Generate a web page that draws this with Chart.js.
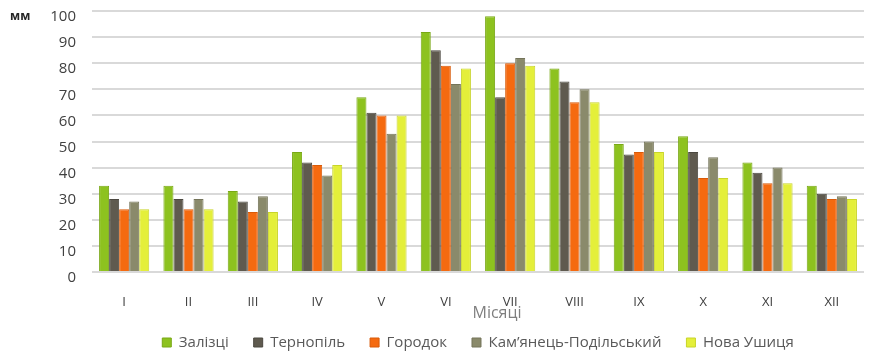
<!DOCTYPE html>
<html>
<head>
<meta charset="utf-8">
<script src="https://cdn.jsdelivr.net/npm/chart.js@4/dist/chart.umd.min.js"></script>
<style>
  html, body { margin: 0; padding: 0; background: #ffffff; }
  #wrap { width: 872px; height: 354px; }
</style>
</head>
<body>
<div id="wrap"><canvas id="c" width="872" height="354"></canvas></div>
<script>
const months = ['I', 'II', 'III', 'IV', 'V', 'VI', 'VII', 'VIII', 'IX', 'X', 'XI', 'XII'];
const zalizci      = [33, 33, 31, 46, 67, 92, 98, 78, 49, 52, 42, 33];
const ternopil     = [28, 28, 27, 42, 61, 85, 67, 73, 45, 46, 38, 30];
const gorodok      = [24, 24, 23, 41, 60, 79, 80, 65, 46, 36, 34, 28];
const kamianets    = [27, 28, 29, 37, 53, 72, 82, 70, 50, 44, 40, 29];
const novaUshytsia = [24, 24, 23, 41, 60, 78, 79, 65, 46, 36, 34, 28];
const yTicks = [0, 10, 20, 30, 40, 50, 60, 70, 80, 90, 100];
const yUnit = 'мм';
const xTitle = 'Місяці';

const seriesNames = ['Залізці', 'Тернопіль', 'Городок', 'Кам\u2019янець-Подільський', 'Нова Ушиця'];
const seriesData = [zalizci, ternopil, gorodok, kamianets, novaUshytsia];
const fills = ['#8dc21f', '#5f5a4f', '#f56a10', '#8a8a6b', '#e4ef3a'];
const borders = ['#79a816', '#4b4840', '#d95a08', '#74745a', '#c8d42a'];

const LEGEND_H = 44;

const legendFit = {
  id: 'legendFit',
  beforeLayout(chart) {
    const lg = chart.legend;
    if (lg && !lg._patchedFit) {
      const orig = lg.fit.bind(lg);
      lg.fit = function () { orig(); this.height = LEGEND_H; };
      lg._patchedFit = true;
    }
  }
};

const extraText = {
  id: 'extraText',
  afterDraw(chart) {
    const ctx = chart.ctx;
    ctx.save();
    ctx.fillStyle = '#262626';
    ctx.font = 'bold 12px "Open Sans", sans-serif';
    ctx.textAlign = 'left';
    ctx.textBaseline = 'middle';
    ctx.fillText(yUnit, 10, 17);
    ctx.fillStyle = '#7f7f7f';
    ctx.font = '16px "Open Sans", sans-serif';
    ctx.textAlign = 'center';
    ctx.fillText(xTitle, 497, 313);
    ctx.restore();
  }
};

new Chart(document.getElementById('c'), {
  type: 'bar',
  data: {
    labels: months,
    datasets: seriesNames.map((n, i) => ({
      label: n,
      data: seriesData[i],
      backgroundColor: fills[i],
      borderColor: borders[i],
      borderWidth: 1,
      categoryPercentage: 0.78,
      barPercentage: 1
    }))
  },
  options: {
    responsive: false,
    animation: false,
    devicePixelRatio: 1,
    layout: { autoPadding: false, padding: { top: 11, right: 8, left: 0, bottom: 0 } },
    plugins: {
      tooltip: { enabled: false },
      legend: {
        position: 'bottom',
        fullSize: false,
        labels: {
          boxWidth: 9,
          boxHeight: 9,
          padding: 25,
          color: '#595959',
          font: { family: '"Open Sans", sans-serif', size: 15 }
        }
      }
    },
    scales: {
      x: {
        grid: { display: false, drawTicks: false },
        border: { display: false },
        ticks: {
          color: '#404040',
          padding: 22,
          font: { family: '"Open Sans", sans-serif', size: 13 }
        },
        afterFit(s) { s.height = 38; s.paddingLeft = 0; s.paddingRight = 0; }
      },
      y: {
        min: 0,
        max: 100,
        afterBuildTicks(s) { s.ticks = yTicks.map(v => ({ value: v })); },
        grid: { color: '#d9d9d9', lineWidth: 2, drawTicks: false },
        border: { display: false },
        ticks: {
          color: '#404040',
          padding: 16,
          labelOffset: 6,
          font: { family: '"Open Sans", sans-serif', size: 15 }
        },
        afterFit(s) { s.width = 92; s.paddingTop = 0; s.paddingBottom = 0; }
      }
    }
  },
  plugins: [legendFit, extraText]
});
</script>
</body>
</html>
